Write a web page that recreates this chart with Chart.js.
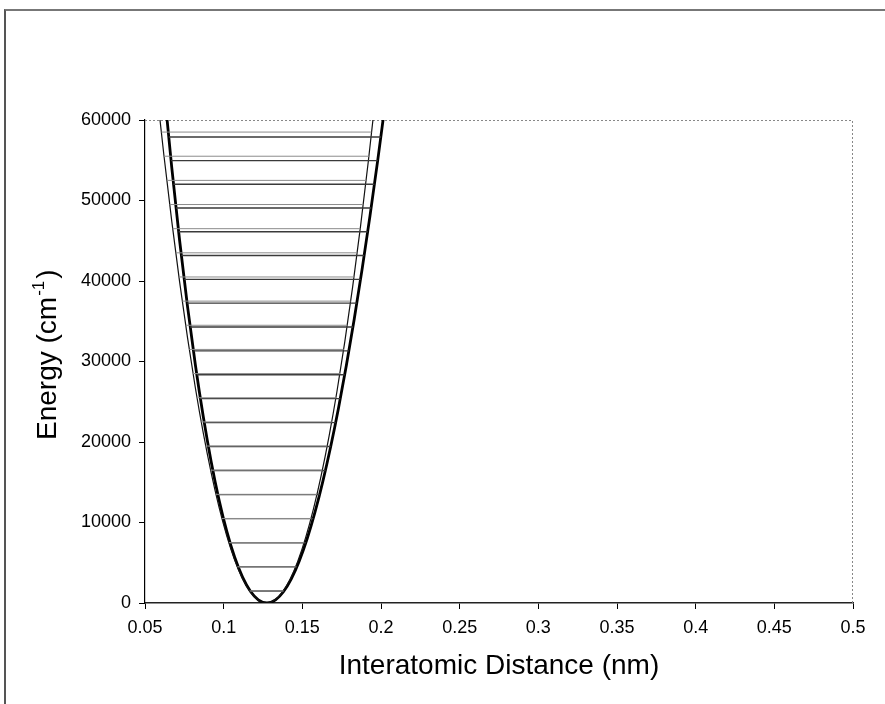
<!DOCTYPE html>
<html>
<head>
<meta charset="utf-8">
<script src="https://cdn.jsdelivr.net/npm/chart.js@4.4.1/dist/chart.umd.min.js"></script>
<style>
  html, body { margin: 0; padding: 0; background: #fff; }
  #wrap { position: relative; width: 885px; height: 704px; overflow: hidden; }
  #frame { position: absolute; left: 4px; top: 9px; width: 1000px; height: 1000px;
           border-top: 2px solid #777; border-left: 2px solid #555; }
  canvas { position: absolute; left: 0; top: 0; }
</style>
</head>
<body>
<div id="wrap">
  <div id="frame"></div>
  <canvas id="chart" width="885" height="704"></canvas>
</div>
<script>
// harmonic potential curve (thin line)
const harmX = [0.057, 0.062, 0.067, 0.072, 0.077, 0.082, 0.087, 0.092, 0.097, 0.102, 0.107, 0.112, 0.117, 0.122, 0.1272,
               0.132, 0.137, 0.142, 0.147, 0.152, 0.157, 0.162, 0.167, 0.172, 0.177, 0.182, 0.187, 0.192, 0.197];
const harmY = [64507, 55648, 47440, 39886, 32987, 26743, 21154, 16219, 11938, 8313, 5341, 3024, 1362, 354, 0,
               302, 1257, 2867, 5132, 8051, 11624, 15852, 20735, 26272, 32464, 39310, 46810, 54965, 63774];

// anharmonic potential curve (thick line)
const anhX = [0.062, 0.067, 0.072, 0.077, 0.082, 0.087, 0.092, 0.097, 0.102, 0.107, 0.112, 0.117, 0.122, 0.1275,
              0.133, 0.138, 0.143, 0.148, 0.153, 0.158, 0.163, 0.168, 0.173, 0.178, 0.183, 0.188, 0.193, 0.198, 0.203];
const anhY = [64147, 54126, 45032, 36870, 29594, 23187, 17617, 12860, 8889, 5682, 3213, 1458, 396, 0,
              386, 1393, 3001, 5193, 7946, 11246, 15071, 19400, 24224, 29521, 35274, 41472, 48086, 55111, 62534];

// harmonic energy levels
const harmLevelE = [1500, 4500, 7500, 10500, 13500, 16500, 19500, 22500, 25500, 28500,
                    31500, 34500, 37500, 40500, 43500, 46500, 49500, 52500, 55500, 58500];
const harmLevelLeft = [0.1165, 0.1087, 0.1033, 0.0989, 0.0951, 0.0917, 0.0886, 0.0857, 0.0831, 0.0805,
                       0.0781, 0.0759, 0.0737, 0.0716, 0.0696, 0.0676, 0.0657, 0.0639, 0.0621, 0.0604];
const harmLevelRight = [0.1379, 0.1457, 0.1511, 0.1555, 0.1593, 0.1627, 0.1658, 0.1687, 0.1713, 0.1739,
                        0.1763, 0.1785, 0.1807, 0.1828, 0.1848, 0.1868, 0.1887, 0.1905, 0.1923, 0.1940];

// anharmonic energy levels
const anhLevelE = [1500, 4496, 7490, 10480, 13468, 16452, 19432, 22410, 25384, 28356,
                   31324, 34288, 37250, 40208, 43164, 46116, 49064, 52010, 54952, 57892];
const anhLevelLeft = [0.1169, 0.1092, 0.1040, 0.0999, 0.0963, 0.0932, 0.0903, 0.0877, 0.0852, 0.0829,
                      0.0808, 0.0787, 0.0768, 0.0749, 0.0731, 0.0714, 0.0697, 0.0681, 0.0666, 0.0651];
const anhLevelRight = [0.1384, 0.1465, 0.1522, 0.1569, 0.1610, 0.1647, 0.1680, 0.1712, 0.1741, 0.1769,
                       0.1796, 0.1822, 0.1846, 0.1870, 0.1893, 0.1915, 0.1937, 0.1958, 0.1979, 0.1999];

const xTicks = [0.05, 0.1, 0.15, 0.2, 0.25, 0.3, 0.35, 0.4, 0.45, 0.5];
const xTickLabels = ['0.05', '0.1', '0.15', '0.2', '0.25', '0.3', '0.35', '0.4', '0.45', '0.5'];
const yTicks = [0, 10000, 20000, 30000, 40000, 50000, 60000];
const yTickLabels = ['0', '10000', '20000', '30000', '40000', '50000', '60000'];

const FONT = 'Liberation Sans, Arial, sans-serif';

function curvePoints(xs, ys) {
  return xs.map((x, i) => ({ x: x, y: ys[i] }));
}

// level segments separated by null gaps
function levelPoints(es, lefts, rights) {
  const pts = [];
  es.forEach((e, i) => {
    pts.push({ x: lefts[i], y: e });
    pts.push({ x: rights[i], y: e });
    pts.push({ x: rights[i], y: null });
  });
  return pts;
}

// dotted top/right border of the plot area
const plotBorder = {
  id: 'plotBorder',
  beforeDatasetsDraw(chart) {
    const { ctx, chartArea: a } = chart;
    ctx.save();
    ctx.strokeStyle = '#888';
    ctx.lineWidth = 1;
    ctx.setLineDash([2, 2]);
    ctx.beginPath();
    ctx.moveTo(a.left, a.top + 0.5);
    ctx.lineTo(a.right - 0.5, a.top + 0.5);
    ctx.lineTo(a.right - 0.5, a.bottom);
    ctx.stroke();
    ctx.restore();
  }
};

// y axis title with superscript
const yTitle = {
  id: 'yTitle',
  afterDraw(chart) {
    const ctx = chart.ctx;
    ctx.save();
    ctx.translate(56, 440);
    ctx.rotate(-Math.PI / 2);
    ctx.fillStyle = '#000';
    ctx.textBaseline = 'alphabetic';
    ctx.textAlign = 'left';
    ctx.font = '28px ' + FONT;
    const main = 'Energy (cm';
    ctx.fillText(main, 0, 0);
    let x = ctx.measureText(main).width;
    ctx.font = '17px ' + FONT;
    ctx.fillText('-1', x + 1, -12);
    x += ctx.measureText('-1').width + 3;
    ctx.font = '28px ' + FONT;
    ctx.fillText(')', x, 0);
    ctx.restore();
  }
};

new Chart(document.getElementById('chart'), {
  type: 'scatter',
  data: {
    datasets: [
      {
        data: levelPoints(harmLevelE, harmLevelLeft, harmLevelRight),
        showLine: true, spanGaps: false, borderColor: '#8c8c8c', borderWidth: 1, pointRadius: 0
      },
      {
        data: levelPoints(anhLevelE, anhLevelLeft, anhLevelRight),
        showLine: true, spanGaps: false, borderColor: '#3a3a3a', borderWidth: 1.4, pointRadius: 0
      },
      {
        data: curvePoints(harmX, harmY),
        showLine: true, borderColor: '#111', borderWidth: 1.2, pointRadius: 0,
        cubicInterpolationMode: 'monotone'
      },
      {
        data: curvePoints(anhX, anhY),
        showLine: true, borderColor: '#000', borderWidth: 2.8, pointRadius: 0,
        cubicInterpolationMode: 'monotone'
      }
    ]
  },
  options: {
    responsive: false,
    animation: false,
    devicePixelRatio: 1,
    layout: { padding: { top: 120, right: 32, left: 0, bottom: 0 } },
    plugins: { legend: { display: false }, tooltip: { enabled: false } },
    scales: {
      x: {
        type: 'linear',
        min: 0.05,
        max: 0.5,
        afterBuildTicks: (s) => { s.ticks = xTicks.map(v => ({ value: v })); },
        afterFit: (s) => { s.height = 101; },
        ticks: {
          callback: (v, i) => xTickLabels[i],
          font: { family: FONT, size: 18 },
          color: '#000',
          padding: 8,
          maxRotation: 0
        },
        grid: { drawOnChartArea: false, tickLength: 6, color: '#000', lineWidth: 1 },
        border: { color: '#222', width: 1.5 },
        title: {
          display: true,
          text: 'Interatomic Distance (nm)',
          font: { family: FONT, size: 28 },
          color: '#000',
          padding: { top: 0, bottom: 21 }
        }
      },
      y: {
        type: 'linear',
        min: 0,
        max: 60000,
        afterBuildTicks: (s) => { s.ticks = yTicks.map(v => ({ value: v })); },
        afterFit: (s) => { s.width = 145; },
        ticks: {
          callback: (v, i) => yTickLabels[i],
          font: { family: FONT, size: 18 },
          color: '#000',
          padding: 8
        },
        grid: { drawOnChartArea: false, tickLength: 6, color: '#000', lineWidth: 1 },
        border: { color: '#000', width: 1.2 }
      }
    }
  },
  plugins: [plotBorder, yTitle]
});
</script>
</body>
</html>
